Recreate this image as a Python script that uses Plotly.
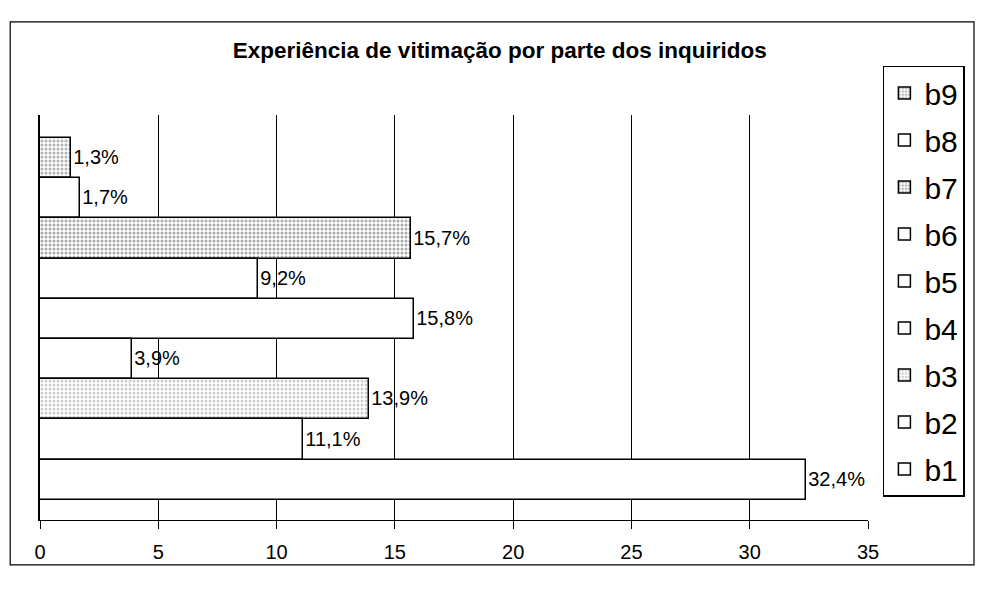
import plotly.graph_objects as go

categories = ["b1", "b2", "b3", "b4", "b5", "b6", "b7", "b8", "b9"]
values = [32.4, 11.1, 13.9, 3.9, 15.8, 9.2, 15.7, 1.7, 1.3]
pattern_fg = {"b3": "#9a9a9a", "b7": "#555555", "b9": "#666666"}
x_ticks = [0, 5, 10, 15, 20, 25, 30, 35]

FONT = "Liberation Sans, Arial"

fig = go.Figure()
for cat, val in reversed(list(zip(categories, values))):
    if cat in pattern_fg:
        marker = dict(color="white", line=dict(color="black", width=1.5),
                      pattern=dict(shape=".", fgcolor=pattern_fg[cat], bgcolor="white",
                                   size=4, solidity=0.45))
    else:
        marker = dict(color="white", line=dict(color="black", width=1.5))
    fig.add_trace(go.Bar(
        y=[cat], x=[val], name=cat, orientation="h", marker=marker,
        legendgroup=cat, text=[val], texttemplate="%{x:.1f}%",
        textposition="outside", cliponaxis=False,
        textfont=dict(family=FONT, size=20, color="black"),
    ))

fig.update_layout(
    width=968, height=579,
    margin=dict(l=32, r=108, t=107, b=67, autoexpand=False),
    paper_bgcolor="white", plot_bgcolor="white",
    barmode="overlay", bargap=0,
    separators=",.",
    font=dict(family=FONT, color="black"),
    title=dict(text="<b>Experiência de vitimação por parte dos inquiridos</b>",
               x=0.508, xanchor="center", xref="container",
               y=0.927, yanchor="middle", yref="container",
               font=dict(size=22.5, family=FONT, color="black")),
    legend=dict(x=1.018, y=1.122, xanchor="left", yanchor="top",
                traceorder="grouped", tracegroupgap=5, maxheight=560,
                bordercolor="black", borderwidth=1.5, bgcolor="white",
                font=dict(size=30, family=FONT, color="black"),
                itemwidth=30),
    xaxis=dict(range=[0, 35], tickvals=x_ticks, ticktext=[str(t) for t in x_ticks],
               showgrid=True, gridcolor="black", gridwidth=1,
               showline=True, linecolor="black", linewidth=1,
               ticks="outside", ticklen=8, tickcolor="black",
               ticklabelstandoff=6,
               tickfont=dict(size=20), zeroline=False, fixedrange=True),
    yaxis=dict(categoryorder="array", categoryarray=categories,
               range=[-1.0, 9.07], showticklabels=False, showgrid=False,
               showline=True, linecolor="black", linewidth=1.5,
               zeroline=False, ticks=""),
    shapes=[dict(type="rect", xref="paper", yref="paper",
                 x0=-0.036, x1=1.128, y0=-0.111, y1=1.23,
                 line=dict(color="black", width=1.2), layer="below")],
)

fig.write_html("out.html")
